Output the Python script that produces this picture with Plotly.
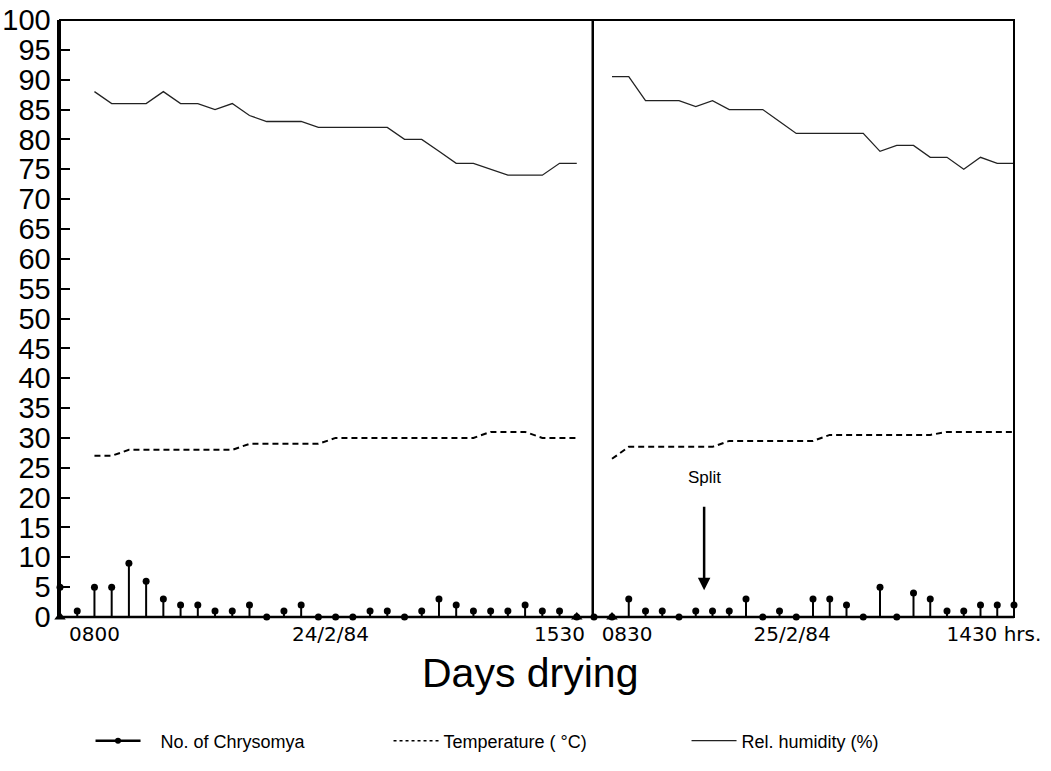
import plotly.graph_objects as go

# ---------------- data ----------------
# Day 1 (24/2/84): sampling slots along the time axis
day1_slots = list(range(32))
day1_counts = [5, 1, 5, 5, 9, 6, 3, 2, 2, 1, 1, 2, 0, 1, 2, 0, 0, 0, 1, 1,
               0, 1, 3, 2, 1, 1, 1, 2, 1, 1, 0, 0]
day1_env_slots = list(range(2, 31))
day1_rh = [88, 86, 86, 86, 88, 86, 86, 85, 86, 84, 83, 83, 83, 82, 82, 82, 82,
           82, 80, 80, 78, 76, 76, 75, 74, 74, 74, 76, 76]
day1_temp = [27, 27, 28, 28, 28, 28, 28, 28, 28, 29, 29, 29, 29, 29, 30, 30, 30,
             30, 30, 30, 30, 30, 30, 31, 31, 31, 30, 30, 30]
day1_marks = [0, 30]

# Day 2 (25/2/84)
day2_slots = list(range(25))
day2_counts = [0, 3, 1, 1, 0, 1, 1, 1, 3, 0, 1, 0, 3, 3, 2, 0, 5, 0, 4, 3, 1, 1,
               2, 2, 2]
day2_rh = [90.5, 90.5, 86.5, 86.5, 86.5, 85.5, 86.5, 85, 85, 85, 83, 81, 81, 81,
           81, 81, 78, 79, 79, 77, 77, 75, 77, 76, 76]
day2_temp = [26.5, 28.5, 28.5, 28.5, 28.5, 28.5, 28.5, 29.5, 29.5, 29.5, 29.5,
             29.5, 29.5, 30.5, 30.5, 30.5, 30.5, 30.5, 30.5, 30.5, 31, 31, 31, 31, 31]
day2_marks = [0]

day1_tickvals = [2, 15.7, 29]
day1_ticktext = ["0800", "24/2/84", "1530"]
day2_tickvals = [0.9, 10.75, 22.8]
day2_ticktext = ["0830", "25/2/84", "1430 hrs."]

y_ticks = list(range(0, 101, 5))

split_slot = 5.5
split_value = 4.5

# ---------------- figure ----------------
BLACK = "#000000"
fig = go.Figure()

def add_day(xaxis, slots, counts, env_slots, rh, temp, marks):
    # relative humidity
    fig.add_trace(go.Scatter(x=env_slots, y=rh, mode="lines", xaxis=xaxis, yaxis="y",
                             line=dict(color="#222222", width=1.3),
                             showlegend=False, hoverinfo="skip"))
    # temperature
    fig.add_trace(go.Scatter(x=env_slots, y=temp, mode="lines", xaxis=xaxis, yaxis="y",
                             line=dict(color=BLACK, width=2, dash="6px,4px"),
                             showlegend=False, hoverinfo="skip"))
    # counts as stems
    fig.add_trace(go.Scatter(x=slots, y=counts, mode="markers", xaxis=xaxis, yaxis="y",
                             marker=dict(color=BLACK, size=7),
                             error_y=dict(type="data", symmetric=False,
                                          array=[0] * len(counts), arrayminus=counts,
                                          color=BLACK, thickness=2, width=0),
                             cliponaxis=False, showlegend=False, hoverinfo="skip"))
    # time marks on the axis
    fig.add_trace(go.Scatter(x=marks, y=[0] * len(marks), mode="markers", xaxis=xaxis,
                             yaxis="y", marker=dict(color=BLACK, size=10,
                                                    symbol="triangle-up"),
                             cliponaxis=False, showlegend=False, hoverinfo="skip"))

add_day("x", day1_slots, day1_counts, day1_env_slots, day1_rh, day1_temp, day1_marks)
add_day("x2", day2_slots, day2_counts, day2_slots, day2_rh, day2_temp, day2_marks)

# legend entries
NB = "\u00a0\u00a0\u00a0"
fig.add_trace(go.Scatter(x=[None], y=[None], mode="lines+markers",
                         line=dict(color=BLACK, width=2.5), marker=dict(color=BLACK, size=6),
                         name=NB + "No. of Chrysomya"))
fig.add_trace(go.Scatter(x=[None], y=[None], mode="lines",
                         line=dict(color=BLACK, width=1.5, dash="3px,3px"),
                         name="Temperature ( °C)"))
fig.add_trace(go.Scatter(x=[None], y=[None], mode="lines",
                         line=dict(color="#222222", width=1.3),
                         name="Rel. humidity (%)"))

# page body margin is removed (post_script); plot area at x 60..1014, y 20..617
PX0, PY0 = 60, 20
plot_w, plot_h = 954, 597
L, T = PX0, PY0
W, H = 1051, 771
R = W - L - plot_w
B = H - T - plot_h
sep_px = 594
d1 = (sep_px - PX0) / plot_w

fig.update_layout(
    width=W, height=H,
    margin=dict(l=L, r=R, t=T, b=B, autoexpand=False),
    paper_bgcolor="white", plot_bgcolor="white",
    font=dict(family="Liberation Sans, Arial, sans-serif", color=BLACK),
    xaxis=dict(domain=[0, d1], range=[0, 31], anchor="y", showgrid=False,
               zeroline=False, showline=False, ticks="", automargin=False,
               tickvals=day1_tickvals, ticktext=day1_ticktext, ticklabelstandoff=3,
               ticklabeloverflow="allow",
               tickfont=dict(family="DejaVu Sans", size=20, color=BLACK)),
    xaxis2=dict(domain=[d1, 1], range=[-1.075, 24.0], anchor="y", showgrid=False,
                zeroline=False, showline=False, ticks="", automargin=False,
                tickvals=day2_tickvals, ticktext=day2_ticktext, ticklabelstandoff=3,
                ticklabeloverflow="allow",
                tickfont=dict(family="DejaVu Sans", size=20, color=BLACK)),
    yaxis=dict(range=[0, 100], tickvals=y_ticks, showgrid=False, zeroline=False,
               showline=True, linewidth=3.5, linecolor=BLACK, automargin=False,
               ticks="inside", ticklen=10, tickwidth=2, tickcolor=BLACK,
               ticklabeloverflow="allow",
               tickfont=dict(family="Liberation Sans, Arial", size=29, color=BLACK)),
    showlegend=True,
    legend=dict(orientation="h", x=0.032, y=(617 - 741) / plot_h, xanchor="left",
                yanchor="middle", entrywidth=238, entrywidthmode="pixels", itemwidth=45,
                font=dict(family="Liberation Sans, Arial", size=18, color=BLACK),
                bgcolor="rgba(0,0,0,0)"),
)

# frame, baseline and the separator between the two days
fig.add_shape(type="rect", xref="paper", yref="paper", x0=0, x1=1, y0=0, y1=1,
              line=dict(color=BLACK, width=2))
fig.add_shape(type="line", xref="paper", yref="paper", x0=0, x1=1, y0=0, y1=0,
              line=dict(color=BLACK, width=2.5))
fig.add_shape(type="line", xref="x", yref="y", x0=31, x1=31, y0=0, y1=100,
              line=dict(color=BLACK, width=5))

# axis title
fig.add_annotation(text="Days drying", xref="paper", yref="paper",
                   x=(530 - PX0) / plot_w, y=(617 - 673) / plot_h,
                   xanchor="center", yanchor="middle", showarrow=False,
                   font=dict(family="Liberation Sans, Arial", size=41, color=BLACK))

# "Split" marker
fig.add_annotation(text="Split", xref="x2", yref="y", x=split_slot, y=23.3,
                   showarrow=False, font=dict(family="Liberation Sans, Arial", size=17,
                                              color=BLACK))
fig.add_annotation(text="", xref="x2", yref="y", x=split_slot, y=split_value,
                   ax=0, ay=-85, showarrow=True, arrowhead=2, arrowsize=1,
                   arrowwidth=2.5, arrowcolor=BLACK)

fig.write_html("out.html",
               config={"displayModeBar": False, "staticPlot": True},
               post_script="document.body.style.margin='0';"
                           "document.body.style.overflow='hidden';")
